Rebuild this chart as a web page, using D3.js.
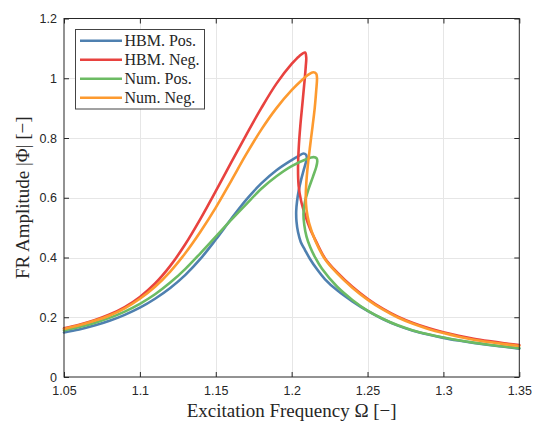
<!DOCTYPE html>
<html>
<head>
<meta charset="utf-8">
<script src="https://cdn.jsdelivr.net/npm/d3@7"></script>
<style>
  html, body { margin: 0; padding: 0; background: #ffffff; }
  svg { display: block; }
</style>
</head>
<body>
<svg id="chart" width="543" height="424"></svg>
<script>
// Frequency-response amplitude curves (harmonic balance vs. numerical integration)
const seriesNames = ["HBM. Pos.", "HBM. Neg.", "Num. Pos.", "Num. Neg."];
const seriesColors = ["#4f80b0", "#e8423f", "#6cbb63", "#fd9a2f"];

// Each curve is traced along its path, including the fold-back near the peak.
const hbmPos = [
  [1.05, 0.149], [1.06, 0.159], [1.07, 0.172], [1.08, 0.188], [1.09, 0.208],
  [1.1, 0.232], [1.11, 0.262], [1.12, 0.298], [1.13, 0.342], [1.14, 0.396],
  [1.15, 0.46], [1.16, 0.528], [1.17, 0.593], [1.18, 0.648], [1.19, 0.692],
  [1.2, 0.726], [1.205, 0.741], [1.2077, 0.748], [1.2095, 0.744], [1.21, 0.733],
  [1.2092, 0.715], [1.2078, 0.69], [1.2062, 0.66], [1.2047, 0.625], [1.2036, 0.59],
  [1.203, 0.555], [1.2032, 0.52], [1.2042, 0.485], [1.206, 0.452], [1.2088, 0.425],
  [1.212, 0.396], [1.2165, 0.362], [1.222, 0.327], [1.23, 0.29], [1.24, 0.253],
  [1.25, 0.221], [1.26, 0.194], [1.27, 0.172], [1.28, 0.155], [1.29, 0.142],
  [1.3, 0.131], [1.31, 0.122], [1.32, 0.114], [1.33, 0.107], [1.34, 0.101], [1.35, 0.095]
];
const hbmNeg = [
  [1.05, 0.163], [1.06, 0.175], [1.07, 0.19], [1.08, 0.209], [1.09, 0.234],
  [1.1, 0.268], [1.11, 0.313], [1.12, 0.372], [1.13, 0.445], [1.14, 0.53],
  [1.15, 0.622], [1.16, 0.717], [1.17, 0.81], [1.18, 0.9], [1.19, 0.982],
  [1.2, 1.048], [1.205, 1.074], [1.2088, 1.086], [1.2096, 1.07], [1.2093, 1.04],
  [1.2083, 0.98], [1.207, 0.91], [1.2057, 0.84], [1.2047, 0.77], [1.2042, 0.7],
  [1.2046, 0.64], [1.2062, 0.59], [1.209, 0.54], [1.2122, 0.495], [1.216, 0.455],
  [1.222, 0.397], [1.23, 0.35], [1.24, 0.302], [1.25, 0.262], [1.26, 0.229],
  [1.27, 0.202], [1.28, 0.181], [1.29, 0.164], [1.3, 0.15], [1.31, 0.138],
  [1.32, 0.128], [1.33, 0.12], [1.34, 0.113], [1.35, 0.107]
];
const numPos = [
  [1.05, 0.156], [1.06, 0.167], [1.07, 0.181], [1.08, 0.198], [1.09, 0.219],
  [1.1, 0.245], [1.11, 0.277], [1.12, 0.316], [1.13, 0.362], [1.14, 0.415],
  [1.15, 0.47], [1.16, 0.525], [1.17, 0.578], [1.18, 0.63], [1.19, 0.672],
  [1.2, 0.706], [1.21, 0.73], [1.2145, 0.736], [1.2165, 0.732], [1.2169, 0.722],
  [1.2162, 0.703], [1.214, 0.67], [1.211, 0.627], [1.2089, 0.59], [1.2078, 0.55],
  [1.2083, 0.51], [1.2098, 0.47], [1.2122, 0.435], [1.2155, 0.4], [1.22, 0.362],
  [1.23, 0.302], [1.24, 0.258], [1.25, 0.222], [1.26, 0.195], [1.27, 0.173],
  [1.28, 0.156], [1.29, 0.143], [1.3, 0.132], [1.31, 0.123], [1.32, 0.115],
  [1.33, 0.108], [1.34, 0.102], [1.35, 0.096]
];
const numNeg = [
  [1.05, 0.161], [1.06, 0.173], [1.07, 0.188], [1.08, 0.206], [1.09, 0.23],
  [1.1, 0.262], [1.11, 0.302], [1.12, 0.353], [1.13, 0.415], [1.14, 0.487],
  [1.15, 0.567], [1.16, 0.655], [1.17, 0.745], [1.18, 0.828], [1.19, 0.9],
  [1.2, 0.96], [1.207, 0.995], [1.211, 1.012], [1.2143, 1.02], [1.2162, 1.015],
  [1.2167, 1.0], [1.2162, 0.96], [1.2152, 0.9], [1.2138, 0.84], [1.2122, 0.775],
  [1.2107, 0.71], [1.2096, 0.645], [1.2093, 0.6], [1.2098, 0.56], [1.2115, 0.515],
  [1.2155, 0.457], [1.222, 0.394], [1.23, 0.347], [1.24, 0.299], [1.25, 0.259],
  [1.26, 0.226], [1.27, 0.199], [1.28, 0.178], [1.29, 0.161], [1.3, 0.147],
  [1.31, 0.135], [1.32, 0.125], [1.33, 0.117], [1.34, 0.11], [1.35, 0.104]
];
const seriesData = [hbmPos, hbmNeg, numPos, numNeg];

const xTickValues = [1.05, 1.1, 1.15, 1.2, 1.25, 1.3, 1.35];
const xTickLabels = ["1.05", "1.1", "1.15", "1.2", "1.25", "1.3", "1.35"];
const yTickValues = [0, 0.2, 0.4, 0.6, 0.8, 1, 1.2];
const yTickLabels = ["0", "0.2", "0.4", "0.6", "0.8", "1", "1.2"];

const xTitle = "Excitation Frequency \u03A9 [\u2212]";
const yTitle = "FR Amplitude |\u03A6| [\u2212]";

const svg = d3.select("#chart");
const plotLeft = 64, plotRight = 519.3, plotTop = 18.5, plotBottom = 377;

const x = d3.scaleLinear().domain([1.05, 1.35]).range([plotLeft, plotRight]);
const y = d3.scaleLinear().domain([0, 1.2]).range([plotBottom, plotTop]);

const axisColor = "#262626";
const tickFont = "'Liberation Sans', Arial, sans-serif";
const serifFont = "'Liberation Serif', 'Times New Roman', serif";

// grid
const grid = svg.append("g");
grid.selectAll("line.gx").data(xTickValues.slice(1, -1)).join("line")
  .attr("class", "gx")
  .attr("x1", d => Math.round(x(d)) + 0.5).attr("x2", d => Math.round(x(d)) + 0.5)
  .attr("y1", plotTop).attr("y2", plotBottom)
  .attr("stroke", "#e6e6e6").attr("stroke-width", 1);
grid.selectAll("line.gy").data(yTickValues.slice(1, -1)).join("line")
  .attr("class", "gy")
  .attr("y1", d => Math.round(y(d)) + 0.5).attr("y2", d => Math.round(y(d)) + 0.5)
  .attr("x1", plotLeft).attr("x2", plotRight)
  .attr("stroke", "#e6e6e6").attr("stroke-width", 1);

// curves
const line = d3.line()
  .x(d => x(d[0])).y(d => y(d[1]))
  .curve(d3.curveCatmullRom.alpha(0.5));

svg.append("g").selectAll("path").data(seriesData).join("path")
  .attr("d", d => line(d))
  .attr("fill", "none")
  .attr("stroke", (d, i) => seriesColors[i])
  .attr("stroke-width", 2.6)
  .attr("stroke-linejoin", "round")
  .attr("stroke-linecap", "round");

// axes: ticks inside on all four sides
const tickLen = 5;
const xAxisB = d3.axisBottom(x).tickValues(xTickValues).tickSize(-tickLen)
  .tickFormat((d, i) => xTickLabels[i]).tickPadding(9);
const xAxisT = d3.axisTop(x).tickValues(xTickValues).tickSize(-tickLen).tickFormat("");
const yAxisL = d3.axisLeft(y).tickValues(yTickValues).tickSize(-tickLen)
  .tickFormat((d, i) => yTickLabels[i]).tickPadding(7);
const yAxisR = d3.axisRight(y).tickValues(yTickValues).tickSize(-tickLen).tickFormat("");

function styleAxis(g) {
  g.select("path.domain").remove();
  g.selectAll(".tick line").attr("stroke", axisColor).attr("stroke-width", 1);
  g.selectAll(".tick text").attr("fill", axisColor)
    .style("font-family", tickFont).style("font-size", "12.5px");
}
svg.append("g").attr("transform", `translate(0,${plotBottom})`).call(xAxisB).call(styleAxis);
svg.append("g").attr("transform", `translate(0,${plotTop})`).call(xAxisT).call(styleAxis);
svg.append("g").attr("transform", `translate(${plotLeft},0)`).call(yAxisL).call(styleAxis);
svg.append("g").attr("transform", `translate(${plotRight},0)`).call(yAxisR).call(styleAxis);
svg.append("rect")
  .attr("x", plotLeft).attr("y", plotTop)
  .attr("width", plotRight - plotLeft).attr("height", plotBottom - plotTop)
  .attr("fill", "none").attr("stroke", axisColor).attr("stroke-width", 1);

// axis titles
svg.append("text")
  .attr("x", (plotLeft + plotRight) / 2).attr("y", 416.5)
  .attr("text-anchor", "middle")
  .style("font-family", serifFont).style("font-size", "19px")
  .attr("fill", axisColor)
  .text(xTitle);
svg.append("text")
  .attr("transform", `translate(29,${(plotTop + plotBottom) / 2}) rotate(-90)`)
  .attr("text-anchor", "middle")
  .style("font-family", serifFont).style("font-size", "19px")
  .attr("fill", axisColor)
  .text(yTitle);

// legend
const legend = svg.append("g");
legend.append("rect")
  .attr("x", 75.5).attr("y", 29.5).attr("width", 129).attr("height", 79.5)
  .attr("fill", "#ffffff").attr("stroke", "#444444").attr("stroke-width", 1);
const rowY = i => 40.7 + i * 19;
legend.selectAll("line").data(seriesNames).join("line")
  .attr("x1", 80).attr("x2", 122)
  .attr("y1", (d, i) => rowY(i)).attr("y2", (d, i) => rowY(i))
  .attr("stroke", (d, i) => seriesColors[i]).attr("stroke-width", 2.6);
legend.selectAll("text").data(seriesNames).join("text")
  .attr("x", 124.5).attr("y", (d, i) => rowY(i) + 5.5)
  .style("font-family", serifFont).style("font-size", "16px")
  .attr("fill", axisColor)
  .text(d => d);
</script>
</body>
</html>
